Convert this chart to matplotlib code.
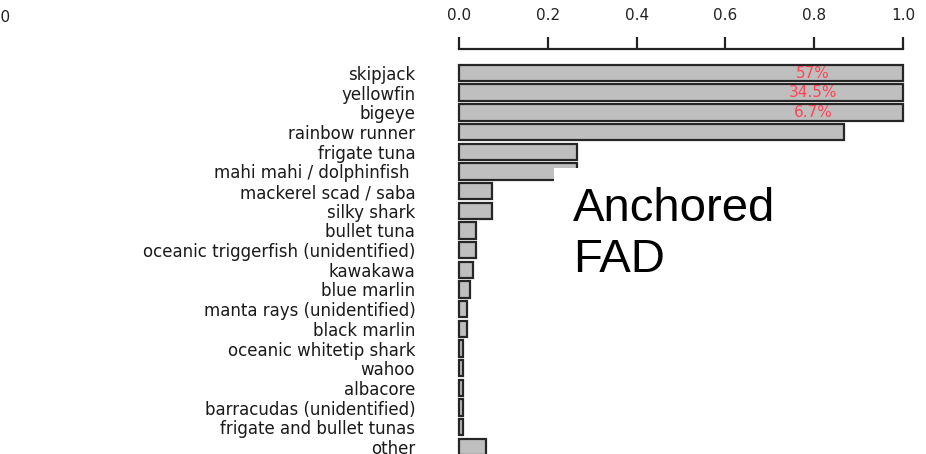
import matplotlib

matplotlib.use("Agg")
import matplotlib.pyplot as plt
import numpy as np

# catch composition on anchored FADs (proportion of sets, scaled to 1.0)
species = [
    "skipjack", "yellowfin", "bigeye", "rainbow runner", "frigate tuna",
    "mahi mahi / dolphinfish ", "mackerel scad / saba", "silky shark",
    "bullet tuna", "oceanic triggerfish (unidentified)", "kawakawa",
    "blue marlin", "manta rays (unidentified)", "black marlin",
    "oceanic whitetip shark", "wahoo", "albacore",
    "barracudas (unidentified)", "frigate and bullet tunas", "other",
]
occurrence = [1.0, 1.0, 1.0, 0.867, 0.266, 0.265, 0.074, 0.074, 0.038, 0.038,
              0.032, 0.025, 0.018, 0.018, 0.009, 0.009, 0.009, 0.009, 0.008, 0.061]
catch_share = ["57%", "34.5%", "6.7%"]
xticks = [0.0, 0.2, 0.4, 0.6, 0.8, 1.0]

W, H = 926, 454
fig = plt.figure(figsize=(W / 100, H / 100), dpi=100)

# axes placed in pixel terms: x 0..1 spans 459..903 px, top axis line at y=49 px
ax = fig.add_axes([459 / W, 0, 444 / W, (H - 49) / H])
pos = np.arange(len(species))
ax.barh(pos, occurrence, height=0.833, color="#bfbfbf", edgecolor="#262626",
        linewidth=1.6, clip_on=False, zorder=2)
ax.set_xlim(0, 1)
ax.set_ylim(19.36, -1.22)

for i, s in enumerate(catch_share):
    ax.text(0.797, i, s, ha="center", va="center", fontsize=11,
            color="#ff4455", zorder=3)

ax.xaxis.tick_top()
ax.set_xticks(xticks)
ax.set_xticklabels([f"{v:.1f}" for v in xticks], fontsize=11, color="#222222")
ax.tick_params(axis="x", direction="out", length=8.5, width=1.6, pad=10,
               color="#222222")
ax.set_yticks(pos)
ax.set_yticklabels(species, fontsize=12, color="#1a1a1a")
ax.tick_params(axis="y", length=0, pad=31.5)
for side in ["left", "right", "bottom"]:
    ax.spines[side].set_visible(False)
ax.spines["top"].set_bounds(0, 1)
ax.spines["top"].set_linewidth(1.6)
ax.spines["top"].set_color("#222222")
ax.patch.set_alpha(0)

# leftover tick label of the neighbouring panel, cut by the frame edge
fig.text(10 / W, 1 - 17 / H, "1.0", ha="right", va="center", fontsize=11,
         color="#222222")

fig.text(573 / W, 1 - 187 / H, "Anchored\nFAD", ha="left", va="top",
         fontsize=34, family="Liberation Sans", color="black", zorder=5,
         bbox=dict(boxstyle="square,pad=0.4", facecolor="white",
                   edgecolor="none"))

fig.savefig("out.png", dpi=100)
